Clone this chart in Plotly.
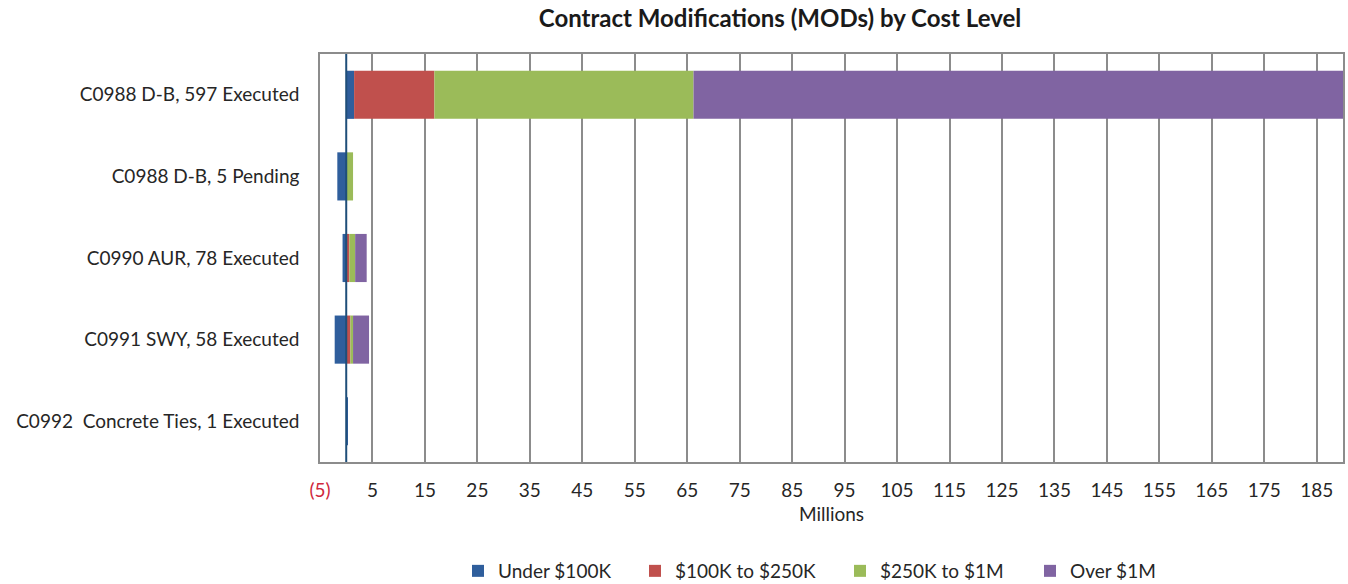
import plotly.graph_objects as go

categories = [
    "C0988 D-B, 597 Executed",
    "C0988 D-B, 5 Pending",
    "C0990 AUR, 78 Executed",
    "C0991 SWY, 58 Executed",
    "C0992  Concrete Ties, 1 Executed",
]
series_names = ["Under $100K", "$100K to $250K", "$250K to $1M", "Over $1M"]
under_100k = [1.5, -1.7, -0.7, -2.2, 0.3]
k100_to_250k = [15.3, 0.0, 0.6, 0.8, 0.0]
k250_to_1m = [49.4, 1.3, 1.1, 0.5, 0.0]
over_1m = [126.0, 0.0, 2.2, 3.05, 0.0]
colors = ["#2F5E9C", "#C0504D", "#9BBB59", "#8064A2"]

tick_vals = list(range(-5, 190, 10))
tick_text = ['<span style="color:#D0283C">(5)</span>'] + [str(v) for v in tick_vals[1:]]

W, H = 1348, 584
font_family = "Lato, Open Sans, sans-serif"

# legend text start positions (px, container)
legend_text_x = [498, 675, 880, 1070]
legend_keys = ["legend", "legend2", "legend3", "legend4"]

fig = go.Figure()
for name, vals, col, lk in zip(series_names, [under_100k, k100_to_250k, k250_to_1m, over_1m], colors, legend_keys):
    fig.add_trace(go.Bar(
        y=categories, x=vals, name=name, orientation="h",
        marker=dict(color=col, line=dict(width=0)),
        legend=lk,
    ))

fig.add_shape(type="line", xref="x", yref="paper", x0=0, x1=0, y0=0, y1=1,
              line=dict(color="#1F4E79", width=2), layer="above")

legend_common = dict(
    orientation="h", xref="container", yref="container",
    xanchor="left", yanchor="middle", y=1 - 571 / H,
    font=dict(size=19, family=font_family, color="#262626"),
    bgcolor="rgba(0,0,0,0)", itemwidth=30,
)
legends = {}
for lk, tx in zip(legend_keys, legend_text_x):
    legends[lk] = dict(legend_common, x=(tx - 40) / W)

fig.update_layout(
    width=W, height=H,
    barmode="relative",
    bargap=0.41,
    plot_bgcolor="white",
    paper_bgcolor="white",
    font=dict(family=font_family, size=19, color="#262626"),
    margin=dict(l=320, r=5, t=54, b=122, autoexpand=False),
    title=dict(
        text="<b>Contract Modifications (MODs) by Cost Level</b>",
        x=780 / W, xanchor="center", xref="container",
        y=1 - 19 / H, yanchor="middle", yref="container",
        font=dict(size=24, family=font_family, color="#1a1a1a"),
    ),
    showlegend=True,
    xaxis=dict(
        range=[-5, 190],
        tickvals=tick_vals, ticktext=tick_text,
        showgrid=True, gridcolor="#8C8C8C", gridwidth=1.6,
        zeroline=False,
        showline=True, mirror=True, linecolor="#8C8C8C", linewidth=1.6,
        ticks="", ticklabelstandoff=10, automargin=False,
        title=dict(text="Millions", standoff=8, font=dict(size=19)),
        tickfont=dict(size=19),
    ),
    yaxis=dict(
        categoryorder="array", categoryarray=categories,
        autorange="reversed",
        showgrid=False, zeroline=False,
        showline=True, mirror=True, linecolor="#8C8C8C", linewidth=1.6,
        ticks="", ticklabelstandoff=15, automargin=False,
        tickfont=dict(size=19),
    ),
    **legends,
)

fig.write_html(
    "out.html",
    config={"displayModeBar": False},
    post_script="document.body.style.margin='0';document.body.style.overflow='hidden';",
)
